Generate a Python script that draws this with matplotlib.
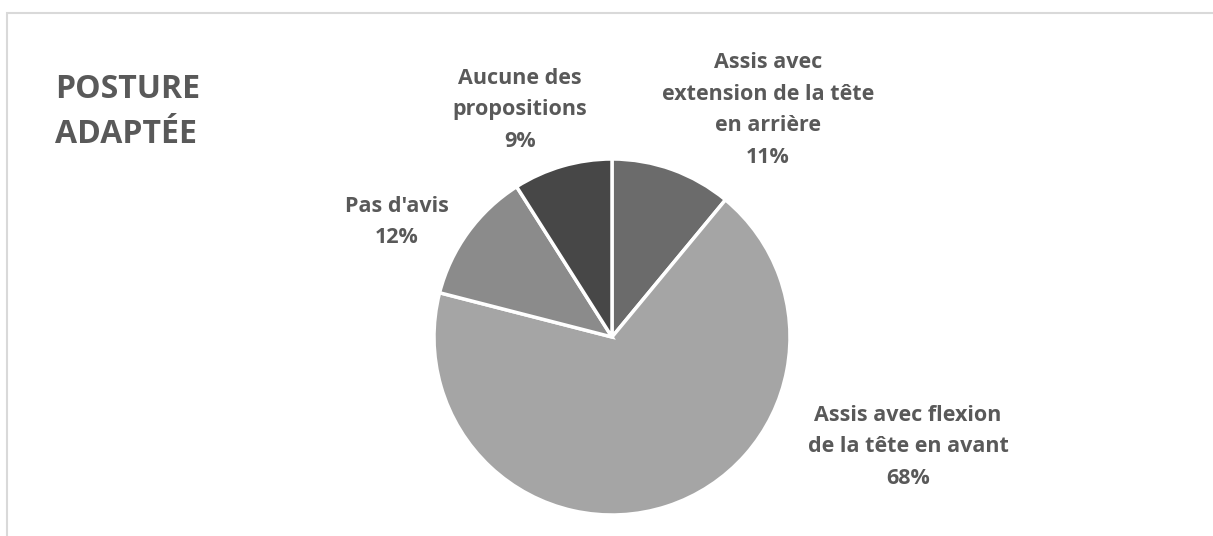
import matplotlib.pyplot as plt
from matplotlib.patches import Rectangle

categories = ["Assis avec\nextension de la tête\nen arrière",
              "Assis avec flexion\nde la tête en avant",
              "Pas d'avis",
              "Aucune des\npropositions"]
values = [11, 68, 12, 9]
colors = ["#6b6b6b", "#a5a5a5", "#8b8b8b", "#474747"]
# label centres, in pixels from the top left of the picture
label_pos = [(768, 110), (908, 447), (397, 222), (520, 110)]

W, H = 1213, 536
txt = "#595959"
plt.rcParams['font.family'] = ['Open Sans', 'DejaVu Sans']

fig = plt.figure(figsize=(W / 100, H / 100), dpi=100)

# outer frame of the chart area
fig.patches.append(Rectangle((7 / W, -0.1), 1.1, 1 - 12.5 / H + 0.1,
                             transform=fig.transFigure, fill=False,
                             edgecolor="#d9d9d9", linewidth=1.5))

cx, cy, r = 612, 337, 178
ax = fig.add_axes([(cx - r) / W, (H - cy - r) / H, 2 * r / W, 2 * r / H])
ax.pie(values, colors=colors, startangle=90, counterclock=False,
       wedgeprops=dict(edgecolor="white", linewidth=2.5))
ax.set_xlim(-1, 1)
ax.set_ylim(-1, 1)

for cat, v, (px, py) in zip(categories, values, label_pos):
    fig.text(px / W, 1 - py / H, f"{cat}\n{v}%", ha="center", va="center",
             fontsize=15.5, fontweight="bold", color=txt, linespacing=1.65)

fig.text(55 / W, 1 - 143 / H, "POSTURE\nADAPTÉE", ha="left", va="baseline",
         fontsize=23, fontweight="bold", color=txt, linespacing=1.47)

fig.savefig("out.png", dpi=100)
